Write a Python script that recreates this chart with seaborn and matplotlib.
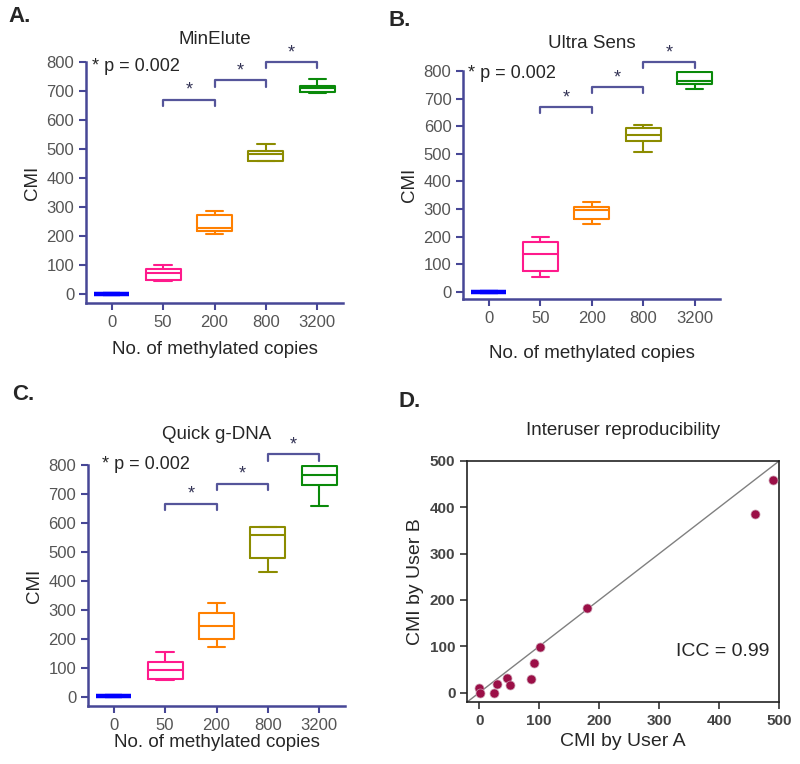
import numpy as np
import pandas as pd
import matplotlib
matplotlib.use("Agg")
import matplotlib.pyplot as plt
import matplotlib.colors as mcolors
import seaborn as sns

# values (min, q1, median, q3, max per group)
copies = ["0", "50", "200", "800", "3200"]
minelute = [[0, 0, 0, 0, 0], [45, 48, 75, 88, 102], [209, 218, 229, 272, 287],
            [458, 460, 483, 494, 519], [692, 698, 709, 718, 742]]
ultra_sens = [[0, 0, 0, 0, 0], [52, 74, 138, 180, 198], [246, 263, 297, 307, 325],
              [506, 545, 570, 593, 603], [734, 752, 765, 795, 800]]
quick_gdna = [[2, 2, 2, 2, 2], [58, 61, 93, 122, 156], [174, 199, 245, 291, 325],
              [432, 480, 559, 587, 588], [659, 731, 766, 798, 799]]

# significance bracket heights (50-200, 200-800, 800-3200)
minelute_brackets = [670, 737, 800]
ultra_sens_brackets = [671, 744, 833]
quick_gdna_brackets = [668, 737, 838]

# interuser reproducibility
user_a = [0, 2, 25, 30, 46, 51, 87, 91, 102, 180, 460, 490]
user_b = [11, 0, 0, 19, 31, 16, 29, 63, 99, 182, 386, 459]

box_colors = ["#0000FF", "#FF1A8C", "#FF8000", "#8C8C00", "#0A8A0A"]
axis_color = "#474796"
label_gray = "#555555"

sns.set_style("ticks")
plt.rcParams["font.family"] = ["Liberation Sans", "DejaVu Sans"]


def box_panel(ax, values, brackets, title, ylim, title_pad, xlabel_pad, ptext_pos):
    df = pd.DataFrame({"copies": np.repeat(copies, 5),
                       "cmi": np.concatenate(values)})
    sns.boxplot(data=df, x="copies", y="cmi", hue="copies", palette=box_colors,
                fill=False, whis=(0, 100), width=0.68, linewidth=1.5,
                legend=False, ax=ax)
    # the 0-copies group collapses to a flat thick line
    blue = mcolors.to_rgba(box_colors[0])
    for ln in ax.lines:
        if mcolors.to_rgba(ln.get_color()) == blue:
            ln.set_linewidth(3.0)
            ln.set_solid_capstyle("butt")
            ln.set_solid_joinstyle("miter")

    ax.set_xlim(-0.5, 4.5)
    ax.set_ylim(*ylim)
    ax.set_yticks(range(0, 801, 100))
    sns.despine(ax=ax)
    for side in ["left", "bottom"]:
        ax.spines[side].set_color(axis_color)
        ax.spines[side].set_linewidth(1.8)
    ax.tick_params(axis="both", colors=axis_color, labelcolor=label_gray,
                   length=5, width=1.5, labelsize=12)
    ax.set_title(title, fontsize=13.5, pad=title_pad)
    ax.set_xlabel("No. of methylated copies", fontsize=13.5, labelpad=xlabel_pad)
    ax.set_ylabel("CMI", fontsize=13.5)

    # brackets with stars
    for i, y in enumerate(brackets):
        x0, x1 = i + 1, i + 2
        ax.plot([x0, x0, x1, x1], [y - 22, y, y, y - 22], color="#55559A",
                lw=1.6, clip_on=False)
        ax.text((x0 + x1) / 2, y + 32, "*", ha="center", va="center",
                fontsize=13, color="#333355", clip_on=False)
    ax.text(ptext_pos[0], ptext_pos[1], "* p = 0.002", ha="left", va="center",
            fontsize=13)


fig = plt.figure(figsize=(8, 7.64), dpi=100)

ax_a = fig.add_axes([0.1075, 0.603, 0.3213, 0.316])
box_panel(ax_a, minelute, minelute_brackets, "MinElute", (-31, 800), 13, 8, (-0.38, 783))

ax_b = fig.add_axes([0.579, 0.609, 0.3213, 0.298])
box_panel(ax_b, ultra_sens, ultra_sens_brackets, "Ultra Sens", (-25, 800), 16.5, 14, (-0.4, 790))

ax_c = fig.add_axes([0.11, 0.076, 0.3213, 0.315])
box_panel(ax_c, quick_gdna, quick_gdna_brackets, "Quick g-DNA", (-31, 800), 19, 1, (-0.23, 803))

# panel D: scatter
ax_d = fig.add_axes([0.584, 0.0812, 0.39, 0.3155])
ax_d.plot([-20, 500], [-20, 500], color="#808080", lw=1)
sns.scatterplot(x=user_a, y=user_b, color="#9B0F47", s=42, edgecolor="#c89aae",
                linewidth=0.5, zorder=3, ax=ax_d)
ax_d.set_xlim(-20, 500)
ax_d.set_ylim(-20, 500)
ax_d.set_xticks(range(0, 501, 100))
ax_d.set_yticks(range(0, 501, 100))
for side in ax_d.spines.values():
    side.set_color("#222222")
    side.set_linewidth(1.2)
ax_d.tick_params(axis="both", colors="#333333", labelcolor="#444444",
                 length=5, width=1.2, labelsize=11)
plt.setp(ax_d.get_xticklabels(), fontweight="bold")
plt.setp(ax_d.get_yticklabels(), fontweight="bold")
ax_d.set_title("Interuser reproducibility", fontsize=13.5, pad=19)
ax_d.set_xlabel("CMI by User A", fontsize=14)
ax_d.set_ylabel("CMI by User B", fontsize=14)
ax_d.text(405, 88, "ICC = 0.99", ha="center", va="center", fontsize=14)

# panel letters
for lx, ly, letter in [(8, 17, "A."), (388, 21, "B."), (12, 395, "C."), (398, 401, "D.")]:
    fig.text(lx / 800, 1 - ly / 764, letter, fontsize=16, fontweight="bold",
             ha="left", va="center")

fig.savefig("out.png", dpi=100)
